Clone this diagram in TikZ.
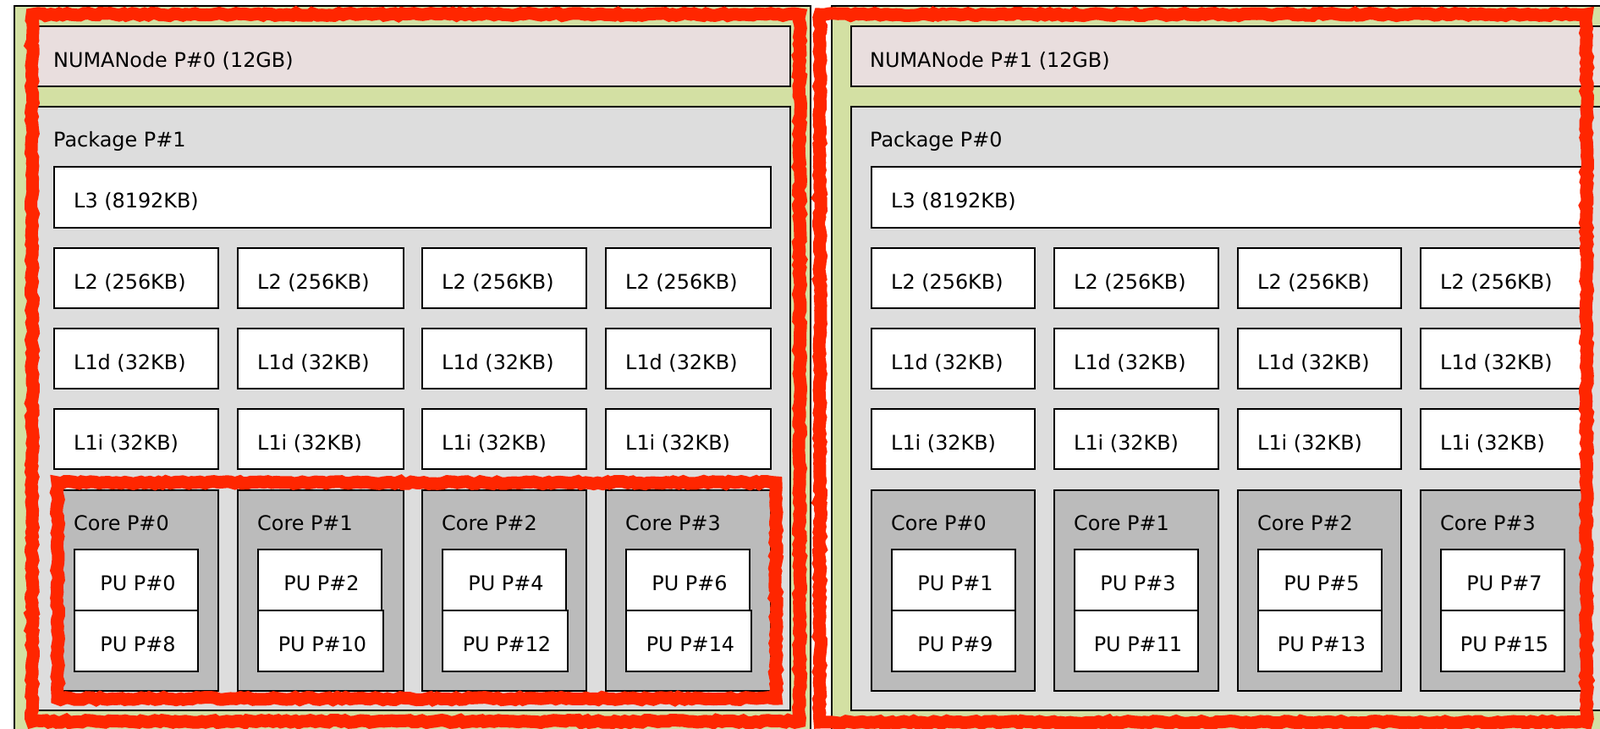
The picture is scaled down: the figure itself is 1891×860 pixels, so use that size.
\documentclass[tikz,border=0pt]{standalone}
\usepackage{fontspec}
\setmainfont{DejaVu Sans}
\usetikzlibrary{positioning,decorations.pathmorphing}
\definecolor{machgreen}{HTML}{D3E0A3}
\definecolor{numapink}{HTML}{E9DEDE}
\definecolor{pkggray}{HTML}{DDDDDD}
\definecolor{coregray}{HTML}{BBBBBB}
\definecolor{scribred}{HTML}{FF2600}
\tikzset{
  box/.style 2 args={anchor=north west,inner sep=0pt,minimum width=#1pt,minimum height=#2pt},
  hw/.style={draw=black,line width=2pt},
  machine/.style={hw,fill=machgreen},
  numa/.style={hw,fill=numapink},
  pkg/.style={hw,fill=pkggray},
  cache/.style={hw,fill=white},
  core/.style={hw,fill=coregray},
  pu/.style={hw,fill=white},
  lbl/.style={anchor=base west,inner sep=0pt},
  pulbl/.style={anchor=base,inner sep=0pt},
  scribble/.style={draw=scribred,line width=15pt,line join=miter,miter limit=2,
    decorate,decoration={random steps,segment length=5pt,amplitude=1.5pt}},
}

\begin{document}
\begin{tikzpicture}[x=1pt,y=-1pt,every node/.style={font=\fontsize{23.9}{28}\selectfont}]
\useasboundingbox (0,0) rectangle (1891,860);
\clip (0,0) rectangle (1891,860);

% two machines, the right one runs off the page
\node[machine,box={941}{920}] (machA) at (16,6) {};
\node[machine,box={960}{920}] (machB) at (982,6) {};

% left: NUMANode P#0 / Package P#1
\node[numa,box={893}{71}] (numaA) at (40,30) {};
\node[lbl] (numaA-t) at ([xshift=23pt,yshift=-12.5pt]numaA.west) {NUMANode P\#0 (12GB)};
\node[pkg,box={893}{713}] (pkgA) at (40,125) {};
\node[lbl] (pkgA-t) at ([xshift=23pt,yshift=-48pt]pkgA.north west) {Package P\#1};
\node[cache,box={847}{72}] (l3A) at (63,196) {};
\node[lbl] (l3A-t) at ([xshift=24pt,yshift=-12.5pt]l3A.west) {L3 (8192KB)};
\foreach \x/\w/\pw/\c/\pa/\pb in {63/194/146/0/0/8,280/196/148/1/2/10,498/194/148/2/4/12,715/195/148/3/6/14}{
  \node[cache,box={\w}{71}] (l2A\c) at (\x,292) {};
  \node[lbl] (l2A\c-t) at ([xshift=24pt,yshift=-12.5pt]l2A\c.west) {L2 (256KB)};
  \node[cache,box={\w}{71}] (l1dA\c) at (\x,387) {};
  \node[lbl] (l1dA\c-t) at ([xshift=24pt,yshift=-12.5pt]l1dA\c.west) {L1d (32KB)};
  \node[cache,box={\w}{71}] (l1iA\c) at (\x,482) {};
  \node[lbl] (l1iA\c-t) at ([xshift=24pt,yshift=-12.5pt]l1iA\c.west) {L1i (32KB)};
  \node[core,box={\w}{237}] (coreA\c) at (\x,578) {};
  \node[lbl] (coreA\c-t) at ([xshift=24pt,yshift=-48pt]coreA\c.north west) {Core P\#\c};
  \node[pu,box={146}{72}] (puA\pa) at (\x+24,648) {};
  \node[pulbl] (puA\pa-t) at ([xshift=2pt,yshift=-12.5pt]puA\pa.center) {PU P\#\pa};
  \node[pu,box={\pw}{72}] (puA\pb) at (\x+24,720) {};
  \node[pulbl] (puA\pb-t) at ([xshift=2pt,yshift=-12.5pt]puA\pb.center) {PU P\#\pb};
}

% right: NUMANode P#1 / Package P#0
\node[numa,box={889}{71}] (numaB) at (1005,30) {};
\node[lbl] (numaB-t) at ([xshift=23pt,yshift=-12.5pt]numaB.west) {NUMANode P\#1 (12GB)};
\node[pkg,box={889}{713}] (pkgB) at (1005,125) {};
\node[lbl] (pkgB-t) at ([xshift=23pt,yshift=-48pt]pkgB.north west) {Package P\#0};
\node[cache,box={842}{72}] (l3B) at (1029,196) {};
\node[lbl] (l3B-t) at ([xshift=24pt,yshift=-12.5pt]l3B.west) {L3 (8192KB)};
\foreach \x/\w/\c/\pa/\pb in {1029/193/0/1/9,1245/194/1/3/11,1462/193/2/5/13,1678/193/3/7/15}{
  \node[cache,box={\w}{71}] (l2B\c) at (\x,292) {};
  \node[lbl] (l2B\c-t) at ([xshift=24pt,yshift=-12.5pt]l2B\c.west) {L2 (256KB)};
  \node[cache,box={\w}{71}] (l1dB\c) at (\x,387) {};
  \node[lbl] (l1dB\c-t) at ([xshift=24pt,yshift=-12.5pt]l1dB\c.west) {L1d (32KB)};
  \node[cache,box={\w}{71}] (l1iB\c) at (\x,482) {};
  \node[lbl] (l1iB\c-t) at ([xshift=24pt,yshift=-12.5pt]l1iB\c.west) {L1i (32KB)};
  \node[core,box={\w}{237}] (coreB\c) at (\x,578) {};
  \node[lbl] (coreB\c-t) at ([xshift=24pt,yshift=-48pt]coreB\c.north west) {Core P\#\c};
  \node[pu,box={146}{72}] (puB\pa) at (\x+24,648) {};
  \node[pulbl] (puB\pa-t) at ([xshift=2pt,yshift=-12.5pt]puB\pa.center) {PU P\#\pa};
  \node[pu,box={146}{72}] (puB\pb) at (\x+24,720) {};
  \node[pulbl] (puB\pb-t) at ([xshift=2pt,yshift=-12.5pt]puB\pb.center) {PU P\#\pb};
}

% red marker strokes
\draw[scribble] (38,17) rectangle (945,852);
\draw[scribble] (969,17) rectangle (1875,853);
\draw[scribble] (68,570) rectangle (917,825);
\end{tikzpicture}
\end{document}
